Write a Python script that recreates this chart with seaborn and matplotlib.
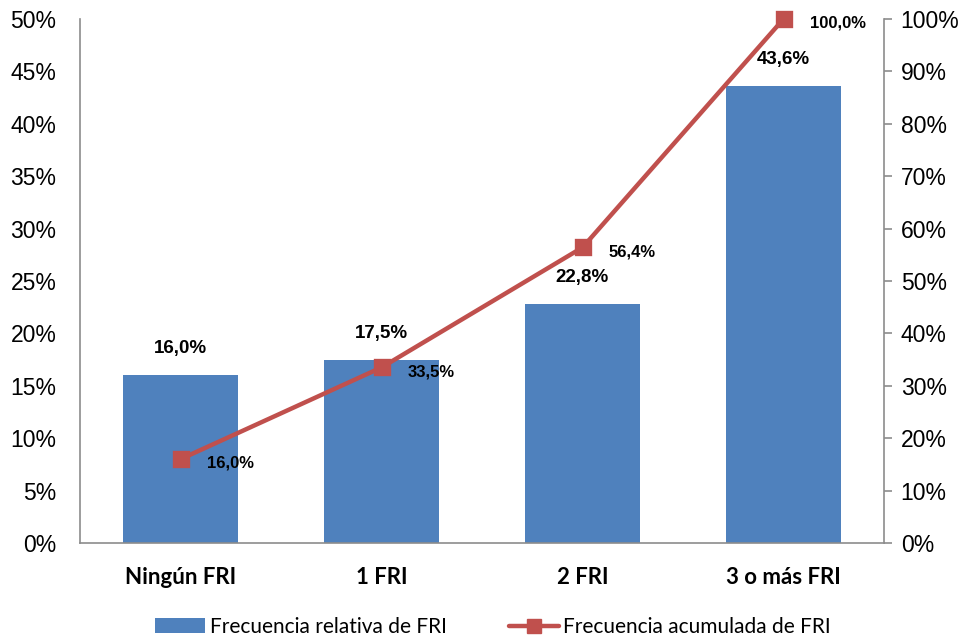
import matplotlib
matplotlib.use("Agg")
import matplotlib.pyplot as plt
import seaborn as sns
import pandas as pd
from matplotlib.patches import Patch
from matplotlib.lines import Line2D
from matplotlib.ticker import FuncFormatter

categories = ["Ningún FRI", "1 FRI", "2 FRI", "3 o más FRI"]
rel_freq = [16.0, 17.5, 22.8, 43.6]
cum_freq = [16.0, 33.5, 56.4, 100.0]
left_ticks = [0, 5, 10, 15, 20, 25, 30, 35, 40, 45, 50]
right_ticks = [0, 10, 20, 30, 40, 50, 60, 70, 80, 90, 100]

df = pd.DataFrame({"cat": categories, "rel": rel_freq, "cum": cum_freq})

sns.set_theme(style="white")
ARIAL = ["Liberation Sans", "DejaVu Sans"]
CALIBRI = ["Lato", "DejaVu Sans"]
plt.rcParams["font.family"] = ARIAL
plt.rcParams["text.color"] = "black"
plt.rcParams["axes.labelcolor"] = "black"
plt.rcParams["xtick.color"] = "black"
plt.rcParams["ytick.color"] = "black"

BLUE = "#4F81BD"
RED = "#C0504D"
GRAY = "#8c8c8c"

fig = plt.figure(figsize=(9.68, 6.38), dpi=100)
ax = fig.add_axes([80/968, 1-543/638, (884-80)/968, (543-19)/638])

sns.barplot(data=df, x="cat", y="rel", ax=ax, color=BLUE, width=0.57,
            saturation=1, edgecolor="none")
ax.set_ylim(0, 50)
ax.set_xlim(-0.5, 3.5)
ax.set_yticks(left_ticks)
ax.yaxis.set_major_formatter(FuncFormatter(lambda v, p: f"{v:.0f}%"))
ax.tick_params(axis="y", labelsize=16.5, length=0, pad=17, labelcolor="black")
ax.tick_params(axis="x", length=0, pad=17, labelcolor="black")
ax.set_xlabel("")
ax.set_ylabel("")
for lbl in ax.get_yticklabels():
    lbl.set_fontfamily(ARIAL)
for lbl in ax.get_xticklabels():
    lbl.set_fontfamily(CALIBRI)
    lbl.set_fontweight("bold")
    lbl.set_fontsize(16)
for s in ["top", "right"]:
    ax.spines[s].set_visible(False)
for s in ["left", "bottom"]:
    ax.spines[s].set_color(GRAY)
    ax.spines[s].set_linewidth(1.2)

for i, v in enumerate(rel_freq):
    ax.annotate(f"{v:.1f}%".replace(".", ","), (i, v), xytext=(0, 19),
                textcoords="offset points", ha="center", va="center",
                fontsize=13.5, fontweight="bold", fontfamily=ARIAL, color="black")

ax2 = ax.twinx()
sns.pointplot(data=df, x="cat", y="cum", ax=ax2, color=RED, markers="s",
              markersize=10, linewidth=3.2, errorbar=None)
for coll in ax2.collections + ax2.lines:
    coll.set_clip_on(False)
ax2.set_ylim(0, 100)
ax2.set_xlim(-0.5, 3.5)
ax2.set_yticks(right_ticks)
ax2.yaxis.set_major_formatter(FuncFormatter(lambda v, p: f"{v:.0f}%"))
ax2.tick_params(axis="y", labelsize=16.5, length=6, width=1.2, color=GRAY,
                pad=6, labelcolor="black", direction="out", right=True)
for lbl in ax2.get_yticklabels():
    lbl.set_fontfamily(ARIAL)
ax2.set_ylabel("")
ax2.set_xlabel("")
for s in ["top", "left", "bottom"]:
    ax2.spines[s].set_visible(False)
ax2.spines["right"].set_color(GRAY)
ax2.spines["right"].set_linewidth(1.2)

for i, v in enumerate(cum_freq):
    ax2.annotate(f"{v:.1f}%".replace(".", ","), (i, v), xytext=(19, -3),
                 textcoords="offset points", ha="left", va="center",
                 fontsize=12, fontweight="bold", fontfamily=ARIAL, color="black")

handles = [Patch(facecolor=BLUE, edgecolor="none"),
           Line2D([0], [0], color=RED, linewidth=3.2, marker="s", markersize=10)]
leg = fig.legend(handles, ["Frecuencia relativa de FRI", "Frecuencia acumulada de FRI"],
                 loc="center", bbox_to_anchor=(493/968, 1-627/638), ncol=2,
                 frameon=False, prop={"family": CALIBRI, "size": 15},
                 handlelength=2.4, handletextpad=0.2, columnspacing=3.0)
for t in leg.get_texts():
    t.set_color("black")

fig.savefig("out.png", dpi=100)
